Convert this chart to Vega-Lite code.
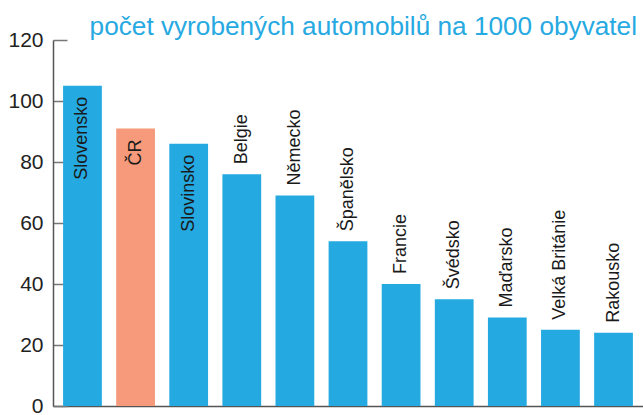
{
  "$schema": "https://vega.github.io/schema/vega-lite/v6.json",
  "width": 590,
  "height": 366,
  "autosize": "none",
  "padding": {"left": 53, "top": 40, "right": 0, "bottom": 9},
  "background": "white",
  "title": {
    "text": "počet vyrobených automobilů na 1000 obyvatel",
    "anchor": "end",
    "font": "Liberation Sans",
    "fontSize": 26.2,
    "fontWeight": "normal",
    "color": "#27a9e1",
    "baseline": "alphabetic",
    "offset": -32,
    "dx": -6
  },
  "data": {
    "values": [
      {"zeme": "Slovensko", "hodnota": 105, "cr": "ne", "pozice": "uvnitr"},
      {"zeme": "ČR", "hodnota": 91, "cr": "ano", "pozice": "uvnitr"},
      {"zeme": "Slovinsko", "hodnota": 86, "cr": "ne", "pozice": "uvnitr"},
      {"zeme": "Belgie", "hodnota": 76, "cr": "ne", "pozice": "nad"},
      {"zeme": "Německo", "hodnota": 69, "cr": "ne", "pozice": "nad"},
      {"zeme": "Španělsko", "hodnota": 54, "cr": "ne", "pozice": "nad"},
      {"zeme": "Francie", "hodnota": 40, "cr": "ne", "pozice": "nad"},
      {"zeme": "Švédsko", "hodnota": 35, "cr": "ne", "pozice": "nad"},
      {"zeme": "Maďarsko", "hodnota": 29, "cr": "ne", "pozice": "nad"},
      {"zeme": "Velká Británie", "hodnota": 25, "cr": "ne", "pozice": "nad"},
      {"zeme": "Rakousko", "hodnota": 24, "cr": "ne", "pozice": "nad"}
    ]
  },
  "config": {
    "view": {"stroke": null},
    "font": "Liberation Sans"
  },
  "encoding": {
    "x": {
      "field": "zeme",
      "type": "nominal",
      "sort": null,
      "scale": {"paddingInner": 0.27, "paddingOuter": 0.19},
      "axis": {"labels": false, "ticks": false, "title": null, "domainColor": "#555555", "domainWidth": 1.5}
    },
    "y": {
      "field": "hodnota",
      "type": "quantitative",
      "scale": {"domain": [0, 120]},
      "axis": {
        "title": null,
        "values": [0, 20, 40, 60, 80, 100, 120],
        "grid": false,
        "tickSize": -14,
        "tickColor": "#777777",
        "tickWidth": 1.5,
        "domainColor": "#555555",
        "domainWidth": 1.5,
        "labelFont": "Liberation Sans",
        "labelFontSize": 21,
        "labelColor": "#222222",
        "labelPadding": 24
      }
    }
  },
  "layer": [
    {
      "mark": {"type": "bar"},
      "encoding": {
        "color": {
          "field": "cr",
          "type": "nominal",
          "scale": {"domain": ["ne", "ano"], "range": ["#24a9e1", "#f69a7b"]},
          "legend": null
        }
      }
    },
    {
      "transform": [{"filter": "datum.pozice == 'uvnitr'"}],
      "mark": {"type": "text", "angle": 270, "align": "right", "baseline": "middle", "dx": -11, "fontSize": 18, "font": "Liberation Sans", "color": "#1a1a1a"},
      "encoding": {"text": {"field": "zeme"}}
    },
    {
      "transform": [{"filter": "datum.pozice == 'nad'"}],
      "mark": {"type": "text", "angle": 270, "align": "left", "baseline": "middle", "dx": 10, "fontSize": 18, "font": "Liberation Sans", "color": "#1a1a1a"},
      "encoding": {"text": {"field": "zeme"}}
    }
  ]
}
